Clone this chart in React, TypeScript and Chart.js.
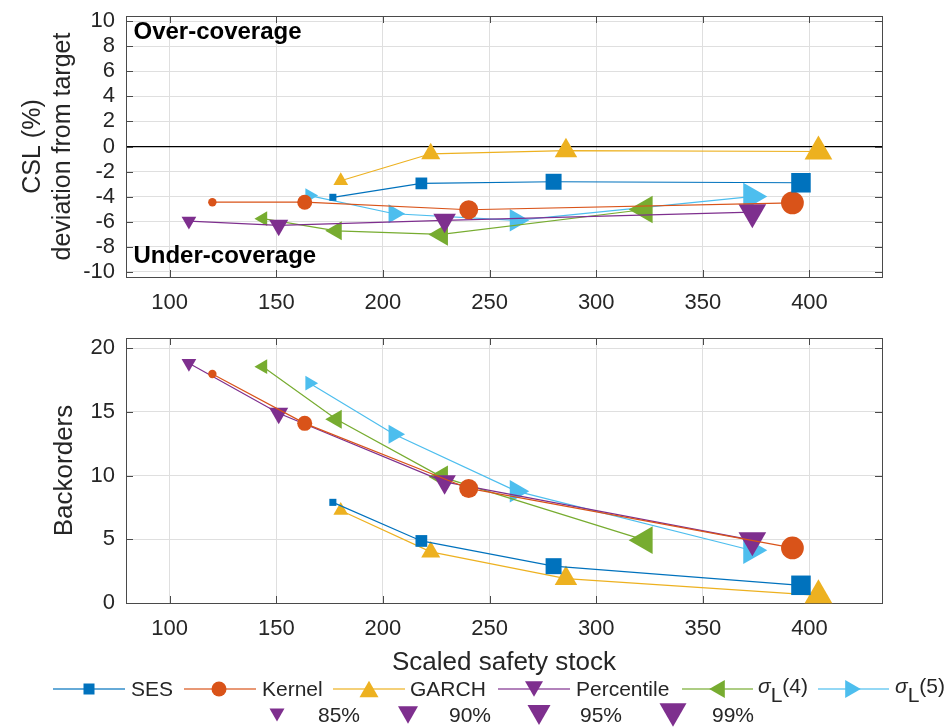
import React, { useEffect, useRef } from 'react';
import { Chart, registerables } from 'chart.js';

Chart.register(...registerables);

const FONT = '"Liberation Sans", Arial, Helvetica, sans-serif';
const TEXT_COLOR = '#262626';
const GRID_COLOR = '#dfdfdf';
const BOX_COLOR = '#4a4a4a';

// ---- data ----
const serviceLevels = ['85%', '90%', '95%', '99%'];
const stockTicks = [100, 150, 200, 250, 300, 350, 400];
const cslTicks = [-10, -8, -6, -4, -2, 0, 2, 4, 6, 8, 10];
const backorderTicks = [0, 5, 10, 15, 20];

const sesStock = [176.5, 218, 280, 396];
const sesCsl = [-4.05, -2.94, -2.81, -2.89];
const sesBack = [7.9, 4.87, 2.89, 1.39];

const kernelStock = [120, 163.3, 240.2, 392];
const kernelCsl = [-4.44, -4.44, -5.04, -4.49];
const kernelBack = [17.98, 14.1, 8.99, 4.32];

const garchStock = [180.2, 222.4, 285.8, 404.2];
const garchCsl = [-2.73, -0.58, -0.33, -0.4];
const garchBack = [7.26, 4.01, 1.92, 0.6];

const pctStock = [109, 151.1, 228.9, 373.2];
const pctCsl = [-5.94, -6.28, -5.88, -5.23];
const pctBack = [18.82, 14.89, 9.51, 4.93];

const sl4Stock = [143.7, 178.1, 227.4, 322.7];
const sl4Csl = [-5.75, -6.72, -7.01, -5.02];
const sl4Back = [18.55, 14.42, 9.9, 4.93];

const sl5Stock = [165.6, 205.2, 262.5, 372.7];
const sl5Csl = [-3.91, -5.36, -5.88, -3.99];
const sl5Back = [17.25, 13.24, 8.78, 4.14];

const methodLabels = ['SES', 'Kernel', 'GARCH', 'Percentile', 'σL(4)', 'σL(5)'];
const methodColors = ['#0072BD', '#D95319', '#EDB120', '#7E2F8E', '#77AC30', '#4DBEEE'];

const overLabel = { text: 'Over-coverage', x: 83, y: 9.1 };
const underLabel = { text: 'Under-coverage', x: 83, y: -8.76 };

type Series = {
  label: string;
  color: string;
  style: string;
  rotation: number;
  radii: number[];
  stock: number[];
  csl: number[];
  back: number[];
};

const triRadii = [8.5, 11, 13, 16];

const series: Series[] = [
  { label: methodLabels[0], color: methodColors[0], style: 'rect', rotation: 0, radii: [5, 8.3, 11.3, 13.8], stock: sesStock, csl: sesCsl, back: sesBack },
  { label: methodLabels[1], color: methodColors[1], style: 'circle', rotation: 0, radii: [4.2, 7.5, 9.5, 11.4], stock: kernelStock, csl: kernelCsl, back: kernelBack },
  { label: methodLabels[2], color: methodColors[2], style: 'triangle', rotation: 0, radii: triRadii, stock: garchStock, csl: garchCsl, back: garchBack },
  { label: methodLabels[3], color: methodColors[3], style: 'triangle', rotation: 180, radii: triRadii, stock: pctStock, csl: pctCsl, back: pctBack },
  { label: methodLabels[4], color: methodColors[4], style: 'triangle', rotation: 270, radii: triRadii, stock: sl4Stock, csl: sl4Csl, back: sl4Back },
  { label: methodLabels[5], color: methodColors[5], style: 'triangle', rotation: 90, radii: triRadii, stock: sl5Stock, csl: sl5Csl, back: sl5Back },
];

// ---- plugins ----
const boxPlugin = {
  id: 'matlabBox',
  beforeDatasetsDraw(chart: any) {
    const { ctx, chartArea: a, scales } = chart;
    const tl = 7;
    ctx.save();
    ctx.strokeStyle = BOX_COLOR;
    ctx.lineWidth = 1;
    ctx.strokeRect(Math.round(a.left) + 0.5, Math.round(a.top) + 0.5, Math.round(a.right - a.left), Math.round(a.bottom - a.top));
    ctx.beginPath();
    scales.x.ticks.forEach((t: any) => {
      const px = Math.round(scales.x.getPixelForValue(t.value)) + 0.5;
      ctx.moveTo(px, a.bottom);
      ctx.lineTo(px, a.bottom - tl);
      ctx.moveTo(px, a.top);
      ctx.lineTo(px, a.top + tl);
    });
    scales.y.ticks.forEach((t: any) => {
      const py = Math.round(scales.y.getPixelForValue(t.value)) + 0.5;
      ctx.moveTo(a.left, py);
      ctx.lineTo(a.left + tl, py);
      ctx.moveTo(a.right, py);
      ctx.lineTo(a.right - tl, py);
    });
    ctx.stroke();
    ctx.restore();
  },
};

const labelPlugin = {
  id: 'coverageLabels',
  afterDatasetsDraw(chart: any, _args: any, opts: any) {
    if (!opts || !opts.items) return;
    const { ctx, scales } = chart;
    ctx.save();
    ctx.font = `bold 24px ${FONT}`;
    ctx.fillStyle = '#000';
    ctx.textBaseline = 'middle';
    ctx.textAlign = 'left';
    opts.items.forEach((it: any) => {
      ctx.fillText(it.text, scales.x.getPixelForValue(it.x), scales.y.getPixelForValue(it.y));
    });
    ctx.restore();
  },
};

function fixedSize(size: number, horizontal: boolean) {
  return (s: any) => {
    if (horizontal) s.height = size;
    else s.width = size;
    s.paddingLeft = 0;
    s.paddingRight = 0;
    s.paddingTop = 0;
    s.paddingBottom = 0;
  };
}

function setTicks(values: number[]) {
  return (s: any) => {
    s.ticks = values.map((v) => ({ value: v }));
  };
}

function buildConfig(kind: 'csl' | 'back'): any {
  const isTop = kind === 'csl';
  const datasets = series.map((m) => ({
    label: m.label,
    data: m.stock.map((x, i) => ({ x, y: isTop ? m.csl[i] : m.back[i] })),
    borderColor: m.color,
    backgroundColor: m.color,
    borderWidth: 1.2,
    pointStyle: m.style,
    pointRotation: m.rotation,
    pointRadius: m.radii,
    pointHoverRadius: m.radii,
    pointBorderWidth: 0,
    pointBackgroundColor: m.color,
    showLine: true,
    tension: 0,
    clip: false,
  }));

  return {
    type: 'scatter',
    data: { datasets },
    plugins: [boxPlugin, labelPlugin],
    options: {
      animation: false,
      responsive: false,
      devicePixelRatio: 1,
      events: [],
      layout: { padding: { left: 0, right: 68, top: isTop ? 13 : 18, bottom: 0 } },
      plugins: {
        legend: { display: false },
        tooltip: { enabled: false },
        coverageLabels: isTop ? { items: [overLabel, underLabel] } : {},
      },
      scales: {
        x: {
          type: 'linear',
          min: 79.5,
          max: 434,
          afterBuildTicks: setTicks(stockTicks),
          afterFit: fixedSize(isTop ? 43 : 97, true),
          border: { display: false },
          grid: { color: GRID_COLOR, lineWidth: 1, drawTicks: false },
          ticks: {
            color: TEXT_COLOR,
            font: { family: FONT, size: 22 },
            padding: 13,
            maxRotation: 0,
            autoSkip: false,
          },
          title: isTop
            ? { display: false }
            : {
                display: true,
                text: 'Scaled safety stock',
                color: TEXT_COLOR,
                font: { family: FONT, size: 26, lineHeight: 1.2 },
                padding: { top: 0, bottom: 21.4 },
              },
        },
        y: {
          type: 'linear',
          min: isTop ? -10.4 : 0,
          max: isTop ? 10.4 : 20.8,
          afterBuildTicks: setTicks(isTop ? cslTicks : backorderTicks),
          afterFit: fixedSize(126, false),
          border: { display: false },
          grid: {
            color: (c: any) => (isTop && c.tick && c.tick.value === 0 ? '#000000' : GRID_COLOR),
            lineWidth: (c: any) => (isTop && c.tick && c.tick.value === 0 ? 1.3 : 1),
            drawTicks: false,
          },
          ticks: {
            color: TEXT_COLOR,
            font: { family: FONT, size: 22 },
            padding: 11,
            autoSkip: false,
          },
          title: {
            display: true,
            text: isTop ? ['CSL (%)', 'deviation from target'] : 'Backorders',
            color: TEXT_COLOR,
            font: isTop ? { family: FONT, size: 25, lineHeight: 1.2 } : { family: FONT, size: 26, lineHeight: 1.25 },
            padding: { top: isTop ? 18 : 48.75, bottom: 0 },
          },
        },
      },
    },
  };
}

function ChartCanvas({ kind, top, height }: { kind: 'csl' | 'back'; top: number; height: number }) {
  const ref = useRef<HTMLCanvasElement | null>(null);
  useEffect(() => {
    if (!ref.current) return;
    const chart = new Chart(ref.current, buildConfig(kind));
    return () => chart.destroy();
  }, [kind]);
  return (
    <canvas
      ref={ref}
      width={950}
      height={height}
      style={{ position: 'absolute', left: 0, top, width: 950, height }}
    />
  );
}

// ---- legend ----
function triPoints(cx: number, cy: number, w: number, dir: number) {
  const h = w * 0.866;
  let pts: number[][];
  if (dir === 0) pts = [[cx, cy - h / 2], [cx - w / 2, cy + h / 2], [cx + w / 2, cy + h / 2]];
  else if (dir === 180) pts = [[cx, cy + h / 2], [cx - w / 2, cy - h / 2], [cx + w / 2, cy - h / 2]];
  else if (dir === 270) pts = [[cx - h / 2, cy], [cx + h / 2, cy - w / 2], [cx + h / 2, cy + w / 2]];
  else pts = [[cx + h / 2, cy], [cx - h / 2, cy - w / 2], [cx - h / 2, cy + w / 2]];
  return pts.map((p) => p.join(',')).join(' ');
}

function Marker({ s, cx, cy, size }: { s: Series; cx: number; cy: number; size: number }) {
  if (s.style === 'rect') return <rect x={cx - size / 2} y={cy - size / 2} width={size} height={size} fill={s.color} />;
  if (s.style === 'circle') return <circle cx={cx} cy={cy} r={size / 2} fill={s.color} />;
  return <polygon points={triPoints(cx, cy, size, s.rotation)} fill={s.color} />;
}

function LegendLabel({ label }: { label: string }) {
  if (label.startsWith('σL')) {
    const rest = label.slice(2);
    return (
      <span>
        <span style={{ fontStyle: 'italic', position: 'relative', top: -3 }}>σ</span>
        <span style={{ position: 'relative', top: 6 }}>L</span>
        <span style={{ position: 'relative', top: -3 }}>{rest}</span>
      </span>
    );
  }
  return <span>{label}</span>;
}

const row1 = [
  { line: [53, 125], mx: 89, tx: 131, size: 11 },
  { line: [184, 256], mx: 219, tx: 262, size: 15 },
  { line: [333, 405], mx: 369, tx: 410, size: 19 },
  { line: [498, 570], mx: 534, tx: 576, size: 18 },
  { line: [682, 753], mx: 717, tx: 758, size: 18 },
  { line: [818, 889], mx: 853, tx: 895, size: 18 },
];
const row2 = [
  { mx: 277, tx: 318, size: 15 },
  { mx: 408, tx: 449, size: 20 },
  { mx: 539, tx: 580, size: 23 },
  { mx: 673, tx: 712, size: 27 },
];

function Legend() {
  const y1 = 689;
  const y2 = 715;
  const pct = series[3];
  const textStyle = (x: number, y: number): React.CSSProperties => ({
    position: 'absolute',
    left: x,
    top: y - 12,
    fontSize: 21,
    lineHeight: '24px',
    color: TEXT_COLOR,
    whiteSpace: 'nowrap',
  });
  return (
    <>
      <svg width={950} height={728} style={{ position: 'absolute', left: 0, top: 0 }}>
        {series.map((s, i) => (
          <g key={s.label}>
            <line x1={row1[i].line[0]} x2={row1[i].line[1]} y1={y1} y2={y1} stroke={s.color} strokeOpacity={0.6} strokeWidth={2} />
            <Marker s={s} cx={row1[i].mx} cy={y1} size={row1[i].size} />
          </g>
        ))}
        {serviceLevels.map((lv, i) => (
          <Marker key={lv} s={pct} cx={row2[i].mx} cy={y2} size={row2[i].size} />
        ))}
      </svg>
      {series.map((s, i) => (
        <div key={s.label} style={textStyle(row1[i].tx, y1)}>
          <LegendLabel label={s.label} />
        </div>
      ))}
      {serviceLevels.map((lv, i) => (
        <div key={lv} style={textStyle(row2[i].tx, y2)}>
          {lv}
        </div>
      ))}
    </>
  );
}

export default function App() {
  return (
    <div
      style={{
        position: 'absolute',
        left: 0,
        top: 0,
        width: 950,
        height: 728,
        background: '#ffffff',
        fontFamily: FONT,
        overflow: 'hidden',
      }}
    >
      <ChartCanvas kind="csl" top={0} height={320} />
      <ChartCanvas kind="back" top={320} height={380} />
      <Legend />
    </div>
  );
}
